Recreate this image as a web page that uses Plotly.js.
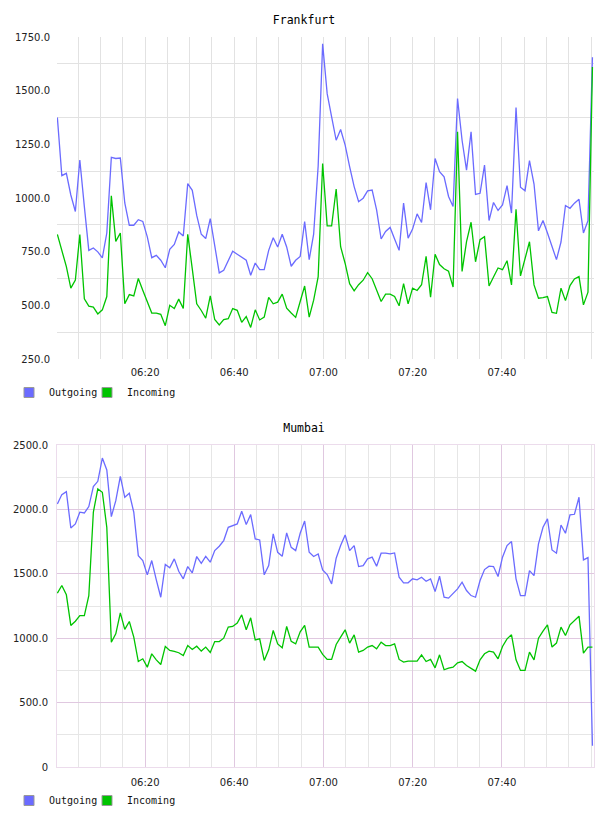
<!DOCTYPE html>
<html>
<head>
<meta charset="utf-8">
<script src="https://cdn.plot.ly/plotly-3.0.1.min.js"></script>
<style>
  html, body { margin: 0; padding: 0; background: #ffffff; }
  .chart { width: 608px; height: 408px; }
</style>
</head>
<body>
<div id="frankfurt" class="chart"></div>
<div id="mumbai" class="chart"></div>
<script>
// ---- data ----
const startTime = '2024-01-01 06:00:20';
const sampleStepSeconds = 60.5;

const frankfurtOutgoing = [1375,1104,1115,1014,937,1177,960,756,767,749,
  721,837,1189,1184,1186,977,873,873,899,891,
  819,722,733,710,675,761,784,842,823,1067,
  1036,919,831,811,904,772,651,663,710,752,
  738,722,710,640,697,666,666,756,815,772,
  831,772,682,710,728,890,713,832,1150,1718,
  1486,1378,1269,1319,1246,1146,1053,983,999,1033,
  1037,945,809,844,863,809,756,976,813,855,
  926,886,1072,945,1184,1123,1099,1007,960,1463,
  1269,1130,1308,1017,1022,1153,895,979,942,968,
  1058,930,1421,1050,1034,1174,1065,847,895,837,
  778,713,795,965,952,976,994,837,894,1656];

const frankfurtIncoming = [830,755,680,580,618,830,530,496,492,460,
  479,541,1010,798,837,507,550,544,625,570,
  520,464,464,458,405,500,485,529,485,831,
  670,507,476,440,544,434,409,434,438,485,
  477,421,448,397,479,432,445,537,507,515,
  552,487,464,444,518,590,445,524,634,1161,
  870,870,1042,773,695,601,567,596,617,652,
  624,572,518,552,552,541,498,601,507,580,
  569,596,728,538,738,690,670,659,585,1309,
  658,797,887,703,806,820,590,632,674,666,
  708,595,947,637,724,796,595,533,536,541,
  467,463,580,522,592,623,634,502,561,1610];

const mumbaiOutgoing = [2042,2115,2138,1856,1887,1978,1972,2022,2177,2218,
  2399,2306,1944,2068,2257,2094,2125,1978,1641,1603,
  1492,1603,1453,1318,1572,1546,1616,1520,1461,1556,
  1507,1634,1582,1636,1590,1680,1714,1758,1861,1874,
  1887,1985,1882,1960,1771,1763,1492,1564,1810,1667,
  1636,1817,1705,1680,1815,1910,1667,1634,1654,1530,
  1494,1422,1621,1719,1802,1680,1719,1556,1564,1616,
  1629,1559,1660,1660,1654,1662,1473,1430,1430,1461,
  1453,1473,1442,1461,1362,1481,1318,1311,1344,1383,
  1435,1370,1331,1318,1448,1533,1559,1556,1479,1629,
  1719,1750,1461,1331,1331,1525,1486,1732,1861,1926,
  1685,1660,1879,1815,1957,1962,2094,1608,1626,165];

const mumbaiIncoming = [1349,1409,1337,1099,1132,1176,1176,1330,1978,2159,
  2133,1861,969,1034,1197,1068,1130,1008,819,840,
  775,879,832,796,936,905,897,887,866,943,
  912,938,900,931,889,974,974,1000,1086,1091,
  1117,1181,1065,1158,987,995,827,910,1060,956,
  925,1091,975,956,1050,1100,931,931,931,874,
  835,835,951,1008,1065,962,1026,892,905,931,
  943,918,969,943,943,956,835,814,822,822,
  822,871,819,835,770,871,755,768,775,809,
  819,788,763,744,832,879,900,892,840,936,
  995,1026,832,750,750,892,832,1000,1055,1104,
  931,962,1086,1021,1104,1137,1171,884,931,931];

const xTickTimes = ['2024-01-01 06:20', '2024-01-01 06:40', '2024-01-01 07:00', '2024-01-01 07:20', '2024-01-01 07:40'];
const xTickLabels = ['06:20', '06:40', '07:00', '07:20', '07:40'];
const xRange = ['2024-01-01 06:00:15', '2024-01-01 08:00:40'];

const frankfurtYTicks = [250, 500, 750, 1000, 1250, 1500, 1750];
const frankfurtYLabels = ['250.0', '500.0', '750.0', '1000.0', '1250.0', '1500.0', '1750.0'];
const mumbaiYTicks = [0, 500, 1000, 1500, 2000, 2500];
const mumbaiYLabels = ['0', '500.0', '1000.0', '1500.0', '2000.0', '2500.0'];

const seriesNames = ['Outgoing', 'Incoming'];

// ---- helpers ----
function buildTimes(n) {
  const base = new Date(startTime.replace(' ', 'T') + 'Z').getTime();
  const out = [];
  for (let i = 0; i < n; i++) {
    out.push(new Date(base + i * sampleStepSeconds * 1000).toISOString().replace('T', ' ').slice(0, 19));
  }
  return out;
}

const BLUE = '#6b6bff';
const GREEN = '#00c400';
const tickFont = { family: 'DejaVu Sans, Verdana, sans-serif', size: 10, color: '#222222' };
const monoFont = { family: 'DejaVu Sans Mono, monospace', size: 10, color: '#111111' };

function makeTraces(outVals, inVals) {
  const t = buildTimes(outVals.length);
  return [
    { x: t, y: outVals, type: 'scatter', mode: 'lines', line: { color: BLUE, width: 1.3 }, showlegend: false, hoverinfo: 'skip' },
    { x: t, y: inVals, type: 'scatter', mode: 'lines', line: { color: GREEN, width: 1.3 }, showlegend: false, hoverinfo: 'skip' },
    { x: [null], y: [null], type: 'scatter', mode: 'markers', name: seriesNames[0], legendwidth: 33,
      marker: { symbol: 'square', size: 10, color: BLUE, line: { color: '#999999', width: 1 } } },
    { x: [null], y: [null], type: 'scatter', mode: 'markers', name: seriesNames[1], legendwidth: 60,
      marker: { symbol: 'square', size: 10, color: GREEN, line: { color: '#999999', width: 1 } } }
  ];
}

function makeLayout(title, yTicks, yLabels, yMinorStart, yRange, style) {
  return {
    width: 608, height: 408,
    margin: { l: 57, r: 14, t: 37, b: 49, pad: 0 },
    paper_bgcolor: '#ffffff', plot_bgcolor: '#ffffff',
    title: { text: title, x: 0.5, xref: 'container', xanchor: 'center', y: 1 - 20 / 408, yref: 'container', yanchor: 'middle',
             font: { family: 'DejaVu Sans Mono, monospace', size: 11.5, color: '#000000' } },
    xaxis: {
      type: 'date', range: xRange, tickmode: 'array', tickvals: xTickTimes, ticktext: xTickLabels,
      showgrid: true, gridcolor: style.majorGrid, gridwidth: 1, zeroline: false,
      showline: style.border, linecolor: style.borderColor, mirror: style.border,
      ticks: '', ticklabelstandoff: 6, tickfont: tickFont,
      minor: { tick0: '2024-01-01 06:00', dtick: 5 * 60 * 1000, showgrid: true, gridcolor: style.minorGrid, gridwidth: 1, ticks: '' }
    },
    yaxis: {
      range: yRange, tickmode: 'array', tickvals: yTicks, ticktext: yLabels,
      showgrid: style.yMajorGrid, gridcolor: style.majorGrid, gridwidth: 1, zeroline: false,
      showline: style.border, linecolor: style.borderColor, mirror: style.border,
      ticks: '', ticklabelstandoff: 6, tickfont: tickFont,
      minor: { tick0: yMinorStart, dtick: yTicks[1] - yTicks[0], showgrid: true, gridcolor: style.minorGrid, gridwidth: 1, ticks: '' }
    },
    showlegend: true,
    legend: {
      orientation: 'h', xref: 'container', yref: 'container', x: 9 / 608, xanchor: 'left',
      y: 1 - 378 / 408, yanchor: 'top', font: monoFont, bgcolor: 'rgba(0,0,0,0)',
      itemclick: false, itemdoubleclick: false
    }
  };
}

const frankfurtStyle = { majorGrid: '#e2e2e2', minorGrid: '#e2e2e2', border: false, borderColor: '#e2e2e2', yMajorGrid: false };
const mumbaiStyle = { majorGrid: '#e0c8e0', minorGrid: '#e6e6e6', border: true, borderColor: '#ecdcec', yMajorGrid: true };

const config = { displayModeBar: false, staticPlot: true };

Plotly.newPlot('frankfurt', makeTraces(frankfurtOutgoing, frankfurtIncoming),
  makeLayout('Frankfurt', frankfurtYTicks, frankfurtYLabels, 375, [250, 1750], frankfurtStyle), config);
Plotly.newPlot('mumbai', makeTraces(mumbaiOutgoing, mumbaiIncoming),
  makeLayout('Mumbai', mumbaiYTicks, mumbaiYLabels, 250, [0, 2500], mumbaiStyle), config);
</script>
</body>
</html>
